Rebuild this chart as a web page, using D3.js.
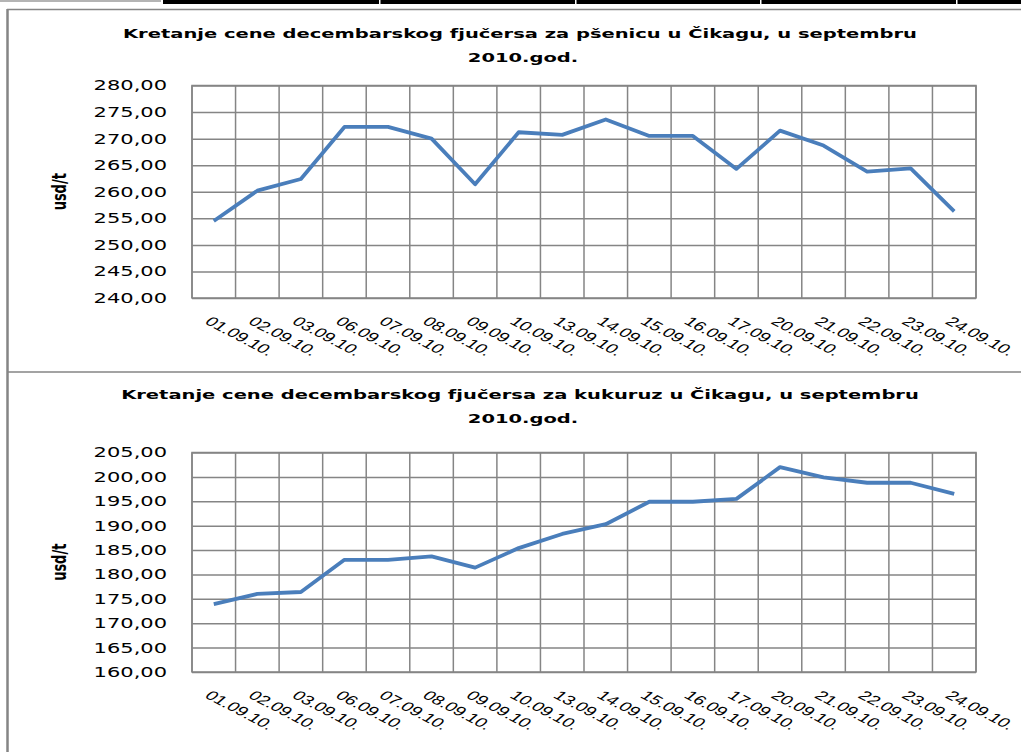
<!DOCTYPE html>
<html>
  <head>
    <meta charset="utf-8">
    <title>Kretanje cene decembarskog fjučersa</title>
    <script src="https://d3js.org/d3.v7.min.js"></script>
    <style>
      body { margin: 0; background: #fff; }
      svg { display: block; }
      text { font-family: "DejaVu Sans", Verdana, sans-serif; fill: #000; }
      .grid line, .grid path, .frame { stroke: #858585; stroke-width: 1.5; fill: none; }
      .xlab { font-family: "Liberation Sans", Arial, sans-serif; font-size: 13px; }
    </style>
  </head>
  <body>
    <svg id="page" width="1021" height="752"></svg>
    <script>
      // trading days in september 2010
      dates = ["01.09.10.", "02.09.10.", "03.09.10.", "06.09.10.", "07.09.10.", "08.09.10.",
               "09.09.10.", "10.09.10.", "13.09.10.", "14.09.10.", "15.09.10.", "16.09.10.",
               "17.09.10.", "20.09.10.", "21.09.10.", "22.09.10.", "23.09.10.", "24.09.10."];
      // december wheat futures, usd/t
      wheat = [254.5, 260.2, 262.4, 272.2, 272.2, 270.0, 261.4, 271.2, 270.7,
               273.6, 270.5, 270.5, 264.3, 271.5, 268.7, 263.8, 264.4, 256.3];
      // december corn futures, usd/t
      corn = [173.9, 176.0, 176.4, 183.0, 183.0, 183.7, 181.4, 185.4, 188.3,
              190.3, 194.9, 194.9, 195.5, 202.0, 199.9, 198.8, 198.8, 196.5];
      wheatTicks = [240, 245, 250, 255, 260, 265, 270, 275, 280];
      cornTicks = [160, 165, 170, 175, 180, 185, 190, 195, 200, 205];

      // the picture is stretched sideways, so is the text
      sx = 1.5;
      svg = d3.select("#page");
      fmt = d => d.toFixed(2).replace(".", ",");

      // page frame bits
      svg.append("rect").attr("x", 0).attr("y", 0).attr("width", 161).attr("height", 2).attr("fill", "#b4b4b4");
      svg.append("rect").attr("x", 163).attr("y", 0).attr("width", 858).attr("height", 4).attr("fill", "#000");
      [379, 575, 760, 956].forEach(x => {
        svg.append("rect").attr("x", x).attr("y", 0).attr("width", 1.5).attr("height", 4).attr("fill", "#fff");
      });
      svg.append("line").attr("class", "frame").attr("x1", 7).attr("x2", 1021).attr("y1", 9.5).attr("y2", 9.5);
      svg.append("line").attr("class", "frame").attr("x1", 7).attr("x2", 1021).attr("y1", 372).attr("y2", 372);
      svg.append("line").attr("class", "frame").style("stroke-width", 2.5).attr("x1", 7.5).attr("x2", 7.5).attr("y1", 9).attr("y2", 752);

      charts = [
        { title: "Kretanje cene decembarskog fjučersa za pšenicu u Čikagu, u septembru",
          values: wheat, ticks: wheatTicks, top: 85.5, bottom: 298, titleY: 38 },
        { title: "Kretanje cene decembarskog fjučersa za kukuruz u Čikagu, u septembru",
          values: corn, ticks: cornTicks, top: 452.5, bottom: 672, titleY: 399 }
      ];
      left = 192;
      right = 976;

      charts.forEach(c => {
        g = svg.append("g");
        x = d3.scaleBand().domain(dates).range([left, right]);
        y = d3.scaleLinear().domain(d3.extent(c.ticks)).range([c.bottom, c.top]);

        // horizontal grid
        g.append("g").attr("class", "grid")
          .attr("transform", `translate(${left},0)`)
          .call(d3.axisLeft(y).tickValues(c.ticks).tickSize(-(right - left)).tickFormat(""))
          .call(a => a.select(".domain").remove());
        // vertical grid on category boundaries
        g.append("g").attr("class", "grid")
          .selectAll("line").data(dates.concat([null]))
          .enter().append("line")
            .attr("x1", d => d ? x(d) : right).attr("x2", d => d ? x(d) : right)
            .attr("y1", c.top).attr("y2", c.bottom);
        g.append("rect").attr("class", "frame")
          .attr("x", left).attr("y", c.top).attr("width", right - left).attr("height", c.bottom - c.top);

        // y tick labels
        g.append("g")
          .attr("transform", `translate(${left - 25},0)`)
          .call(d3.axisLeft(y).tickValues(c.ticks).tickSize(0).tickPadding(0).tickFormat(fmt))
          .call(a => a.select(".domain").remove())
          .selectAll("text")
            .attr("x", 0)
            .style("font-size", "14px")
            .attr("transform", `scale(${sx},1)`);

        // x labels
        g.selectAll(".xlab").data(dates)
          .enter().append("text")
            .attr("class", "xlab")
            .attr("transform", d => `translate(${x(d) + x.bandwidth() / 2 - 10},${c.bottom + 25}) scale(${sx},1) rotate(38)`)
            .text(d => d);

        // series line
        line = d3.line()
          .x((d, i) => x(dates[i]) + x.bandwidth() / 2)
          .y(d => y(d));
        g.append("path").datum(c.values)
          .attr("d", line)
          .attr("fill", "none")
          .attr("stroke", "#4a7ebb")
          .attr("stroke-width", 3.8)
          .attr("stroke-linejoin", "round");

        // titles
        g.append("text")
          .attr("transform", `translate(520,${c.titleY}) scale(${sx},1)`)
          .attr("text-anchor", "middle")
          .style("font-size", "13px").style("font-weight", "bold")
          .text(c.title);
        g.append("text")
          .attr("transform", `translate(523,${c.titleY + 24}) scale(${sx},1)`)
          .attr("text-anchor", "middle")
          .style("font-size", "13px").style("font-weight", "bold")
          .text("2010.god.");

        // axis name
        g.append("text")
          .attr("transform", `translate(66,${(c.top + c.bottom) / 2}) scale(${sx},1) rotate(-90)`)
          .attr("text-anchor", "middle")
          .style("font-size", "13px").style("font-weight", "bold")
          .text("usd/t");
      });
    </script>
  </body>
</html>
